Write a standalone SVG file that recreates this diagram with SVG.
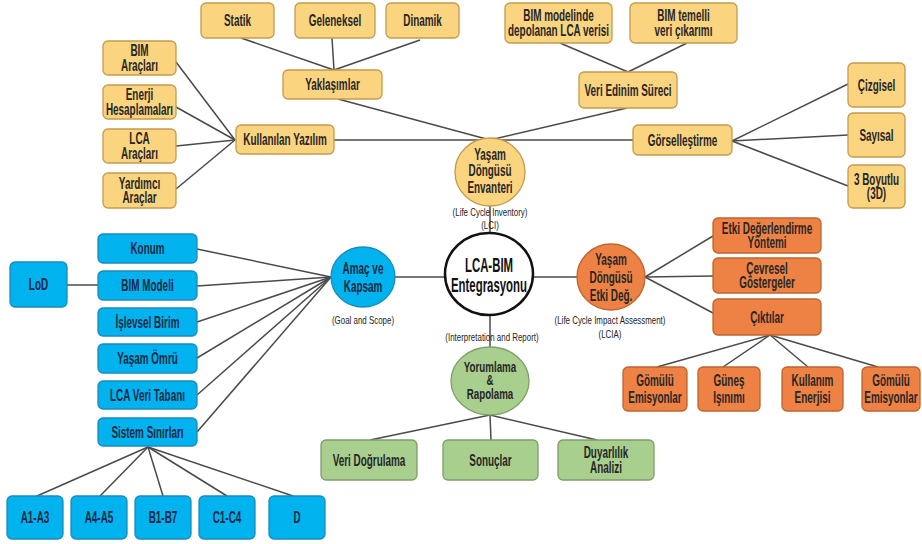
<svg xmlns="http://www.w3.org/2000/svg" width="922" height="544" viewBox="0 0 922 544">
<style>
.y{fill:#FBD480;stroke:#C39B4E;stroke-width:1.3}
.b{fill:#00B3EE;stroke:#1B8BBE;stroke-width:1.3}
.o{fill:#EE8244;stroke:#BE6430;stroke-width:1.3}
.g{fill:#A9CF8F;stroke:#7E9E6A;stroke-width:1.3}
.m{fill:#fff;stroke:#111;stroke-width:2.5}
.bt{font-family:"Liberation Sans",Arial,sans-serif;font-weight:bold;font-size:16px;text-anchor:middle;fill:#262626}
.bb{fill:#1A2844}
.mt{font-family:"Liberation Sans",Arial,sans-serif;font-weight:bold;font-size:20px;text-anchor:middle;fill:#111}
.sl{font-family:"Liberation Sans",Arial,sans-serif;font-size:11px;text-anchor:middle;fill:#222}
.c line{stroke:#4a4a4a;stroke-width:1.5}
</style>
<g class="c" id="connectors">
<line x1="241" y1="38" x2="334" y2="70"/>
<line x1="332" y1="38" x2="334" y2="70"/>
<line x1="420" y1="40" x2="334" y2="70"/>
<line x1="338" y1="99" x2="490" y2="140"/>
<line x1="235" y1="140" x2="176" y2="62"/>
<line x1="235" y1="140" x2="176" y2="107"/>
<line x1="235" y1="140" x2="176" y2="146"/>
<line x1="235" y1="140" x2="176" y2="189"/>
<line x1="334" y1="140" x2="633" y2="140"/>
<line x1="627" y1="108" x2="490" y2="140"/>
<line x1="560" y1="43" x2="628" y2="72"/>
<line x1="687" y1="43" x2="628" y2="72"/>
<line x1="732" y1="141" x2="848" y2="84"/>
<line x1="732" y1="141" x2="848" y2="135"/>
<line x1="732" y1="141" x2="848" y2="186"/>
<line x1="490" y1="205" x2="490" y2="233"/>
<line x1="67" y1="285" x2="98" y2="285"/>
<line x1="331" y1="277" x2="197" y2="249"/>
<line x1="331" y1="277" x2="197" y2="286"/>
<line x1="331" y1="277" x2="197" y2="322"/>
<line x1="331" y1="277" x2="197" y2="358"/>
<line x1="331" y1="277" x2="197" y2="395"/>
<line x1="331" y1="277" x2="197" y2="432"/>
<line x1="395" y1="277" x2="445" y2="277"/>
<line x1="148" y1="447" x2="37" y2="496"/>
<line x1="148" y1="447" x2="100" y2="496"/>
<line x1="148" y1="447" x2="163" y2="496"/>
<line x1="148" y1="447" x2="227" y2="496"/>
<line x1="148" y1="447" x2="293" y2="496"/>
<line x1="533" y1="277" x2="577" y2="277"/>
<line x1="645" y1="277" x2="713" y2="236"/>
<line x1="645" y1="277" x2="713" y2="276"/>
<line x1="645" y1="277" x2="713" y2="313"/>
<line x1="770" y1="335" x2="657" y2="367"/>
<line x1="770" y1="335" x2="723" y2="367"/>
<line x1="770" y1="335" x2="808" y2="367"/>
<line x1="770" y1="335" x2="878" y2="367"/>
<line x1="490" y1="315" x2="490" y2="347"/>
<line x1="490" y1="415" x2="370" y2="440"/>
<line x1="490" y1="415" x2="491" y2="440"/>
<line x1="490" y1="415" x2="597" y2="440"/>
</g>
<g id="statik"><rect class="y" x="201" y="3" width="73" height="35" rx="5"/><text class="bt" transform="translate(237.5,26) scale(0.62,1)">Statik</text></g>
<g id="geleneksel"><rect class="y" x="295" y="3" width="80" height="35" rx="5"/><text class="bt" transform="translate(335,26) scale(0.62,1)">Geleneksel</text></g>
<g id="dinamik"><rect class="y" x="386" y="3" width="73" height="35" rx="5"/><text class="bt" transform="translate(422.5,26) scale(0.62,1)">Dinamik</text></g>
<g id="yaklasimlar"><rect class="y" x="283" y="70" width="99" height="29" rx="5"/><text class="bt" transform="translate(332.5,90) scale(0.62,1)">Yaklaşımlar</text></g>
<g id="bim-araclari"><rect class="y" x="103" y="41" width="73" height="34" rx="5"/><text class="bt" transform="translate(139.5,56) scale(0.62,1)"><tspan x="0">BIM</tspan><tspan x="0" dy="15">Araçları</tspan></text></g>
<g id="enerji"><rect class="y" x="103" y="85" width="73" height="34" rx="5"/><text class="bt" transform="translate(139.5,100) scale(0.62,1)"><tspan x="0">Enerji</tspan><tspan x="0" dy="15">Hesaplamaları</tspan></text></g>
<g id="lca-araclari"><rect class="y" x="103" y="129" width="73" height="34" rx="5"/><text class="bt" transform="translate(139.5,144) scale(0.62,1)"><tspan x="0">LCA</tspan><tspan x="0" dy="15">Araçları</tspan></text></g>
<g id="yardimci"><rect class="y" x="103" y="173" width="73" height="35" rx="5"/><text class="bt" transform="translate(139.5,188.5) scale(0.62,1)"><tspan x="0">Yardımcı</tspan><tspan x="0" dy="15">Araçlar</tspan></text></g>
<g id="kullanilan"><rect class="y" x="236" y="125" width="98" height="29" rx="5"/><text class="bt" transform="translate(285,145) scale(0.62,1)">Kullanılan Yazılım</text></g>
<g id="bim-modelinde"><rect class="y" x="505" y="3" width="107" height="40" rx="5"/><text class="bt" transform="translate(558.5,21) scale(0.62,1)"><tspan x="0">BIM modelinde</tspan><tspan x="0" dy="15">depolanan LCA verisi</tspan></text></g>
<g id="bim-temelli"><rect class="y" x="630" y="3" width="107" height="40" rx="5"/><text class="bt" transform="translate(683.5,21) scale(0.62,1)"><tspan x="0">BIM temelli</tspan><tspan x="0" dy="15">veri çıkarımı</tspan></text></g>
<g id="veri-edinim"><rect class="y" x="579" y="72" width="98" height="36" rx="5"/><text class="bt" transform="translate(628,95.5) scale(0.62,1)">Veri Edinim Süreci</text></g>
<g id="gorsellestirme"><rect class="y" x="633" y="125" width="99" height="30" rx="5"/><text class="bt" transform="translate(682.5,145.5) scale(0.62,1)">Görselleştirme</text></g>
<g id="cizgisel"><rect class="y" x="848" y="63" width="57" height="44" rx="5"/><text class="bt" transform="translate(876.5,90.5) scale(0.62,1)">Çizgisel</text></g>
<g id="sayisal"><rect class="y" x="848" y="113" width="57" height="44" rx="5"/><text class="bt" transform="translate(876.5,140.5) scale(0.62,1)">Sayısal</text></g>
<g id="boyutlu"><rect class="y" x="848" y="165" width="57" height="43" rx="5"/><text class="bt" transform="translate(876.5,184.5) scale(0.62,1)"><tspan x="0">3 Boyutlu</tspan><tspan x="0" dy="15">(3D)</tspan></text></g>
<g id="lci"><ellipse class="y" cx="490" cy="172" rx="35" ry="34"/><text class="bt" transform="translate(490,160) scale(0.62,1)"><tspan x="0">Yaşam</tspan><tspan x="0" dy="16.5">Döngüsü</tspan><tspan x="0" dy="16.5">Envanteri</tspan></text>
<text class="sl" transform="translate(490,216) scale(0.72,1)"><tspan x="0">(Life Cycle Inventory)</tspan><tspan x="0" dy="13">(LCI)</tspan></text></g>
<g id="main"><ellipse class="m" cx="489" cy="274" rx="44" ry="41"/><text class="mt" transform="translate(489,272) scale(0.57,1)"><tspan x="0">LCA-BIM</tspan><tspan x="0" dy="20">Entegrasyonu</tspan></text></g>
<g id="amac"><ellipse class="b" cx="363" cy="277" rx="32" ry="30"/><text class="bt bb" transform="translate(363,274) scale(0.62,1)"><tspan x="0">Amaç ve</tspan><tspan x="0" dy="18">Kapsam</tspan></text>
<text class="sl" transform="translate(363,324) scale(0.72,1)">(Goal and Scope)</text></g>
<g id="konum"><rect class="b" x="98" y="234" width="99" height="29" rx="5"/><text class="bt bb" transform="translate(147.5,254) scale(0.62,1)">Konum</text></g>
<g id="bim-modeli"><rect class="b" x="98" y="271" width="99" height="29" rx="5"/><text class="bt bb" transform="translate(147.5,291) scale(0.62,1)">BIM Modeli</text></g>
<g id="islevsel"><rect class="b" x="98" y="308" width="99" height="28" rx="5"/><text class="bt bb" transform="translate(147.5,327.5) scale(0.62,1)">İşlevsel Birim</text></g>
<g id="yasam-omru"><rect class="b" x="98" y="344" width="99" height="29" rx="5"/><text class="bt bb" transform="translate(147.5,364) scale(0.62,1)">Yaşam Ömrü</text></g>
<g id="lca-veri"><rect class="b" x="98" y="381" width="99" height="28" rx="5"/><text class="bt bb" transform="translate(147.5,400.5) scale(0.62,1)">LCA Veri Tabanı</text></g>
<g id="sistem"><rect class="b" x="98" y="418" width="99" height="28" rx="5"/><text class="bt bb" transform="translate(147.5,437.5) scale(0.62,1)">Sistem Sınırları</text></g>
<g id="lod"><rect class="b" x="10" y="262" width="57" height="45" rx="5"/><text class="bt bb" transform="translate(38.5,290) scale(0.62,1)">LoD</text></g>
<g id="a1a3"><rect class="b" x="7" y="496" width="56" height="43" rx="5"/><text class="bt bb" transform="translate(35,523) scale(0.62,1)">A1-A3</text></g>
<g id="a4a5"><rect class="b" x="71" y="496" width="56" height="43" rx="5"/><text class="bt bb" transform="translate(99,523) scale(0.62,1)">A4-A5</text></g>
<g id="b1b7"><rect class="b" x="135" y="496" width="56" height="43" rx="5"/><text class="bt bb" transform="translate(163,523) scale(0.62,1)">B1-B7</text></g>
<g id="c1c4"><rect class="b" x="199" y="496" width="56" height="43" rx="5"/><text class="bt bb" transform="translate(227,523) scale(0.62,1)">C1-C4</text></g>
<g id="d"><rect class="b" x="269" y="496" width="56" height="43" rx="5"/><text class="bt bb" transform="translate(297,523) scale(0.62,1)">D</text></g>
<g id="lcia"><ellipse class="o" cx="611" cy="277" rx="34" ry="33"/><text class="bt" transform="translate(611,265) scale(0.62,1)"><tspan x="0">Yaşam</tspan><tspan x="0" dy="18">Döngüsü</tspan><tspan x="0" dy="18">Etki Değ.</tspan></text>
<text class="sl" transform="translate(610,324) scale(0.72,1)"><tspan x="0">(Life Cycle Impact Assessment)</tspan><tspan x="0" dy="14">(LCIA)</tspan></text></g>
<g id="etki"><rect class="o" x="713" y="218" width="108" height="35" rx="5"/><text class="bt" transform="translate(767,233.5) scale(0.62,1)"><tspan x="0">Etki Değerlendirme</tspan><tspan x="0" dy="15">Yöntemi</tspan></text></g>
<g id="cevresel"><rect class="o" x="713" y="258" width="108" height="35" rx="5"/><text class="bt" transform="translate(767,273.5) scale(0.62,1)"><tspan x="0">Çevresel</tspan><tspan x="0" dy="15">Göstergeler</tspan></text></g>
<g id="ciktilar"><rect class="o" x="713" y="299" width="108" height="36" rx="5"/><text class="bt" transform="translate(767,322.5) scale(0.62,1)">Çıktılar</text></g>
<g id="gomulu1"><rect class="o" x="623" y="367" width="64" height="44" rx="5"/><text class="bt" transform="translate(655,386) scale(0.62,1)"><tspan x="0">Gömülü</tspan><tspan x="0" dy="17">Emisyonlar</tspan></text></g>
<g id="gunes"><rect class="o" x="698" y="367" width="62" height="44" rx="5"/><text class="bt" transform="translate(729,386) scale(0.62,1)"><tspan x="0">Güneş</tspan><tspan x="0" dy="17">Işınımı</tspan></text></g>
<g id="kullanim"><rect class="o" x="782" y="367" width="61" height="44" rx="5"/><text class="bt" transform="translate(812.5,386) scale(0.62,1)"><tspan x="0">Kullanım</tspan><tspan x="0" dy="17">Enerjisi</tspan></text></g>
<g id="gomulu2"><rect class="o" x="862" y="367" width="58" height="44" rx="5"/><text class="bt" transform="translate(891,386) scale(0.62,1)"><tspan x="0">Gömülü</tspan><tspan x="0" dy="17">Emisyonlar</tspan></text></g>
<g id="yorumlama"><ellipse class="g" cx="490" cy="381" rx="39" ry="34"/><text class="bt" style="font-size:15px" transform="translate(490,372) scale(0.65,1)"><tspan x="0">Yorumlama</tspan><tspan x="0" dy="13.5">&amp;</tspan><tspan x="0" dy="13.5">Rapolama</tspan></text>
<text class="sl" transform="translate(492,341) scale(0.72,1)">(Interpretation and Report)</text></g>
<g id="veri-dogrulama"><rect class="g" x="321" y="440" width="96" height="40" rx="5"/><text class="bt" transform="translate(369,465.5) scale(0.62,1)">Veri Doğrulama</text></g>
<g id="sonuclar"><rect class="g" x="443" y="440" width="95" height="40" rx="5"/><text class="bt" transform="translate(490.5,465.5) scale(0.62,1)">Sonuçlar</text></g>
<g id="duyarlilik"><rect class="g" x="558" y="440" width="96" height="40" rx="5"/><text class="bt" transform="translate(606,458) scale(0.62,1)"><tspan x="0">Duyarlılık</tspan><tspan x="0" dy="15">Analizi</tspan></text></g>
</svg>
